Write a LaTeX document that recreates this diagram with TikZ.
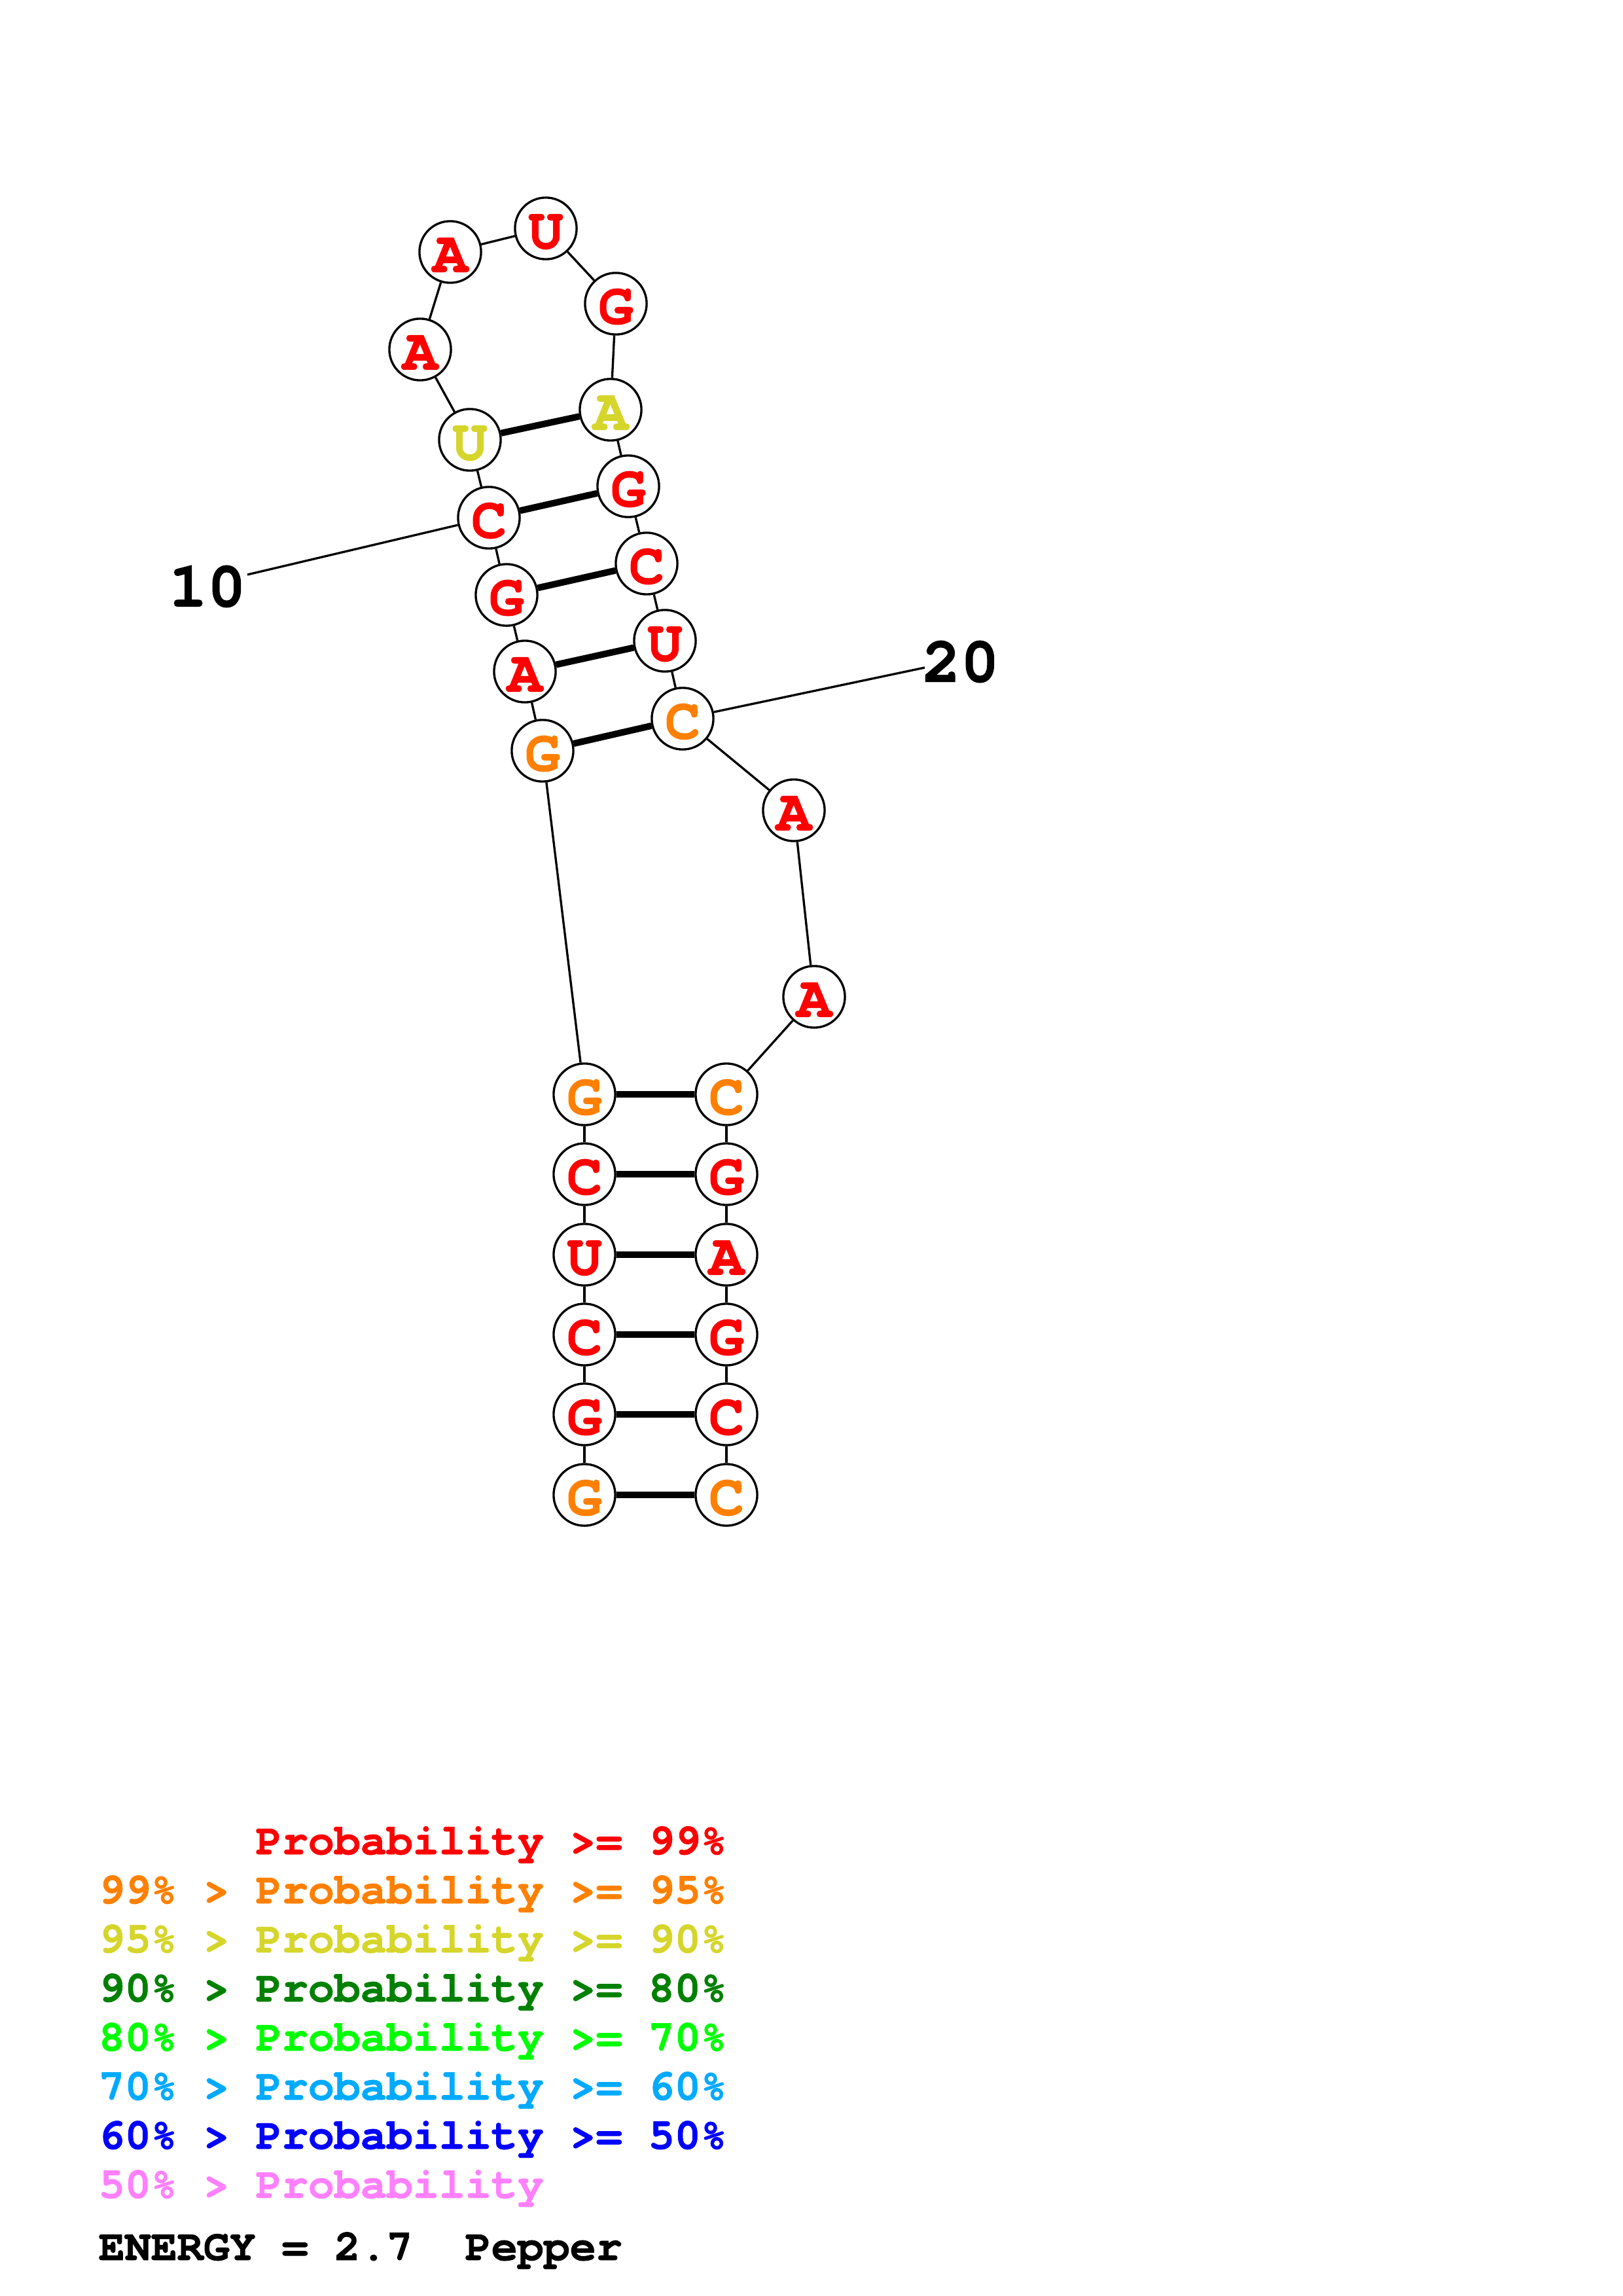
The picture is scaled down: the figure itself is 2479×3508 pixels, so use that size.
\documentclass[tikz,border=0pt]{standalone}
\usepackage{fontspec}
\setmonofont{TeX Gyre Cursor}[BoldFeatures={FakeBold=1.2}]
\definecolor{pred}{RGB}{255,0,0}
\definecolor{porange}{RGB}{255,128,0}
\definecolor{pyellow}{RGB}{213,213,43}
\definecolor{pdgreen}{RGB}{0,128,0}
\definecolor{pgreen}{RGB}{0,255,0}
\definecolor{plblue}{RGB}{0,170,255}
\definecolor{pblue}{RGB}{0,0,255}
\definecolor{ppink}{RGB}{255,128,255}
\newcommand{\nucfont}{\fontsize{21.5pt}{21.5pt}\selectfont\ttfamily\bfseries}
\newcommand{\numfont}{\fontsize{23.5pt}{23.5pt}\selectfont\ttfamily\bfseries}
\newcommand{\legfont}{\fontsize{16pt}{16pt}\selectfont\ttfamily\bfseries}
\tikzset{
  nt/.style={circle, draw=black, line width=0.8pt, fill=white, minimum size=22.6pt,
    inner sep=0pt, font=\nucfont, text height=14.7pt, text depth=0pt},
  bb/.style={line width=0.8pt, draw=black},
  pairline/.style={line width=2.4pt, draw=black},
  numlab/.style={inner sep=0pt, font=\numfont},
  leg/.style={inner sep=0pt, anchor=base west, font=\legfont}
}
\begin{document}
\begin{tikzpicture}[x=0.24pt,y=-0.24pt]
\useasboundingbox (0,0) rectangle (2479,3508);
% nucleotides
\node[nt, text=porange] (n1) at (893,2284) {G};
\node[nt, text=pred] (n2) at (893,2161) {G};
\node[nt, text=pred] (n3) at (893,2039) {C};
\node[nt, text=pred] (n4) at (893,1917) {U};
\node[nt, text=pred] (n5) at (893,1794) {C};
\node[nt, text=porange] (n6) at (893,1672) {G};
\node[nt, text=porange] (n7) at (829,1147) {G};
\node[nt, text=pred] (n8) at (802,1026) {A};
\node[nt, text=pred] (n9) at (774,909) {G};
\node[nt, text=pred] (n10) at (747,791) {C};
\node[nt, text=pyellow] (n11) at (718,672) {U};
\node[nt, text=pred] (n12) at (642,534) {A};
\node[nt, text=pred] (n13) at (688,385) {A};
\node[nt, text=pred] (n14) at (834,349) {U};
\node[nt, text=pred] (n15) at (941,464) {G};
\node[nt, text=pyellow] (n16) at (933,626) {A};
\node[nt, text=pred] (n17) at (960,743) {G};
\node[nt, text=pred] (n18) at (988,861) {C};
\node[nt, text=pred] (n19) at (1016,979) {U};
\node[nt, text=porange] (n20) at (1043,1098) {C};
\node[nt, text=pred] (n21) at (1213,1238) {A};
\node[nt, text=pred] (n22) at (1244,1523) {A};
\node[nt, text=porange] (n23) at (1110,1672) {C};
\node[nt, text=pred] (n24) at (1110,1794) {G};
\node[nt, text=pred] (n25) at (1110,1917) {A};
\node[nt, text=pred] (n26) at (1110,2039) {G};
\node[nt, text=pred] (n27) at (1110,2161) {C};
\node[nt, text=porange] (n28) at (1110,2284) {C};
% backbone
\foreach \i [evaluate=\i as \j using int(\i+1)] in {1,...,27}
  \draw[bb] (n\i) -- (n\j);
% base pairs
\foreach \a/\b in {1/28,2/27,3/26,4/25,5/24,6/23,7/20,8/19,9/18,10/17,11/16}
  \draw[pairline] (n\a) -- (n\b);
% position labels
\node[numlab] (l10) at (317,896) {10};
\coordinate (e10) at (378,878);
\draw[bb] (n10) -- (e10);
\node[numlab] (l20) at (1468,1011) {20};
\coordinate (e20) at (1413,1020);
\draw[bb] (n20) -- (e20);
% legend
\node[leg, text=pred] (g1) at (390,2833) {Probability >= 99\%};
\node[leg, text=porange] (g2) at (150,2908) {99\% > Probability >= 95\%};
\node[leg, text=pyellow] (g3) at (150,2983) {95\% > Probability >= 90\%};
\node[leg, text=pdgreen] (g4) at (150,3058) {90\% > Probability >= 80\%};
\node[leg, text=pgreen] (g5) at (150,3133) {80\% > Probability >= 70\%};
\node[leg, text=plblue] (g6) at (150,3208) {70\% > Probability >= 60\%};
\node[leg, text=pblue] (g7) at (150,3283) {60\% > Probability >= 50\%};
\node[leg, text=ppink] (g8) at (150,3358) {50\% > Probability};
\node[leg, text=black] (g9) at (150,3453) {ENERGY = 2.7\ \ Pepper};
\end{tikzpicture}
\end{document}
